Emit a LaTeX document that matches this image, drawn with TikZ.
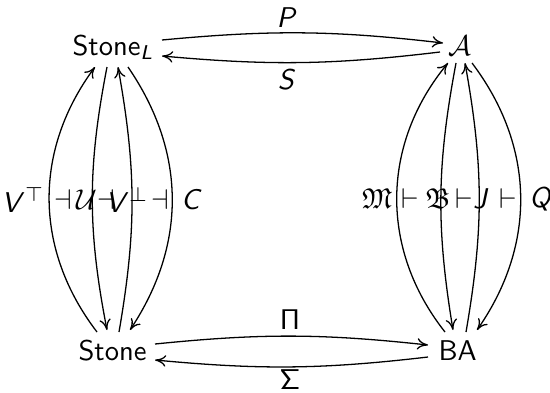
\documentclass[tikz,border=0pt]{standalone}
\usepackage{amssymb}
\DeclareMathAlphabet{\mathsfit}{OT1}{cmss}{m}{sl}
\DeclareMathAlphabet{\mathsfup}{OT1}{cmss}{m}{n}
\usetikzlibrary{arrows.meta,calc}
\begin{document}
\begin{tikzpicture}[x=0.35pt,y=-0.35pt,
  obj/.style={inner sep=0pt,anchor=base west,font=\sffamily},
  lbl/.style={inner sep=0pt,font=\sffamily},
  arr/.style={line width=0.45pt,-{To[length=3.8pt,width=4pt]}}]
\useasboundingbox (0,0) rectangle (550,392);
\node[obj] (SL) at (72,55) {Stone$_{\mathsfit{L}}$};
\node[obj] (S) at (78,360) {Stone};
\node[obj] (A) at (448,55) {$\mathcal{A}$};
\node[obj] (BA) at (438,360) {BA};
% horizontal
\draw[arr] ($(SL.base west)+(90,-15)$) to[bend left=6] ($(A.base west)+(-5,-12)$);
\draw[arr] ($(A.base west)+(-8,-3)$) to[bend left=6] ($(SL.base west)+(90,1)$);
\draw[arr] ($(S.base west)+(77,-16)$) to[bend left=6] ($(BA.base west)+(-10,-15)$);
\draw[arr] ($(BA.base west)+(-10,-3)$) to[bend left=6] ($(S.base west)+(77,0)$);
\node[lbl] (lP) at (287,18) {$\mathsfit{P}$};
\node[lbl] (lS) at (287,80) {$\mathsfit{S}$};
\node[lbl] (lPi) at (290,320) {$\mathsfup{\Pi}$};
\node[lbl] (lSi) at (290,380) {$\mathsfup{\Sigma}$};
% left column
\draw[arr] ($(S.base west)+(19,-28)$) to[bend left=37] ($(SL.base west)+(23,12)$);
\draw[arr] ($(SL.base west)+(35,12)$) to[bend right=11] ($(S.base west)+(29,-30)$);
\draw[arr] ($(S.base west)+(41,-28)$) to[bend right=10] ($(SL.base west)+(46,12)$);
\draw[arr] ($(SL.base west)+(56,12)$) to[bend left=34] ($(S.base west)+(52,-30)$);
\node[lbl] (lVt) at (23,200) {$\mathsfit{V}^\top$};
\node[lbl] (d1) at (63,200) {$\dashv$};
\node[lbl] (lU) at (87,200) {$\mathcal{U}$};
\node[lbl] (d2) at (106,200) {$\dashv$};
\node[lbl] (lVp) at (127,200) {$\mathsfit{V}^\perp$};
\node[lbl] (d3) at (160,200) {$\dashv$};
\node[lbl] (lC) at (192,200) {$\mathsfit{C}$};
% right column
\draw[arr] ($(BA.base west)+(7,-28)$) to[bend left=39] ($(A.base west)+(0,8)$);
\draw[arr] ($(A.base west)+(8,8)$) to[bend right=10] ($(BA.base west)+(15,-30)$);
\draw[arr] ($(BA.base west)+(28,-28)$) to[bend right=10] ($(A.base west)+(17,8)$);
\draw[arr] ($(A.base west)+(24,8)$) to[bend left=36] ($(BA.base west)+(39,-30)$);
\node[lbl] (lM) at (377,199) {$\mathfrak{M}$};
\node[lbl] (t1) at (410,199) {$\vdash$};
\node[lbl] (lB) at (438,199) {$\mathfrak{B}$};
\node[lbl] (t2) at (464,199) {$\vdash$};
\node[lbl] (lJ) at (481,199) {$\mathsfit{J}$};
\node[lbl] (t3) at (508,199) {$\vdash$};
\node[lbl] (lQ) at (541,199) {$\mathsfit{Q}$};
\end{tikzpicture}
\end{document}
